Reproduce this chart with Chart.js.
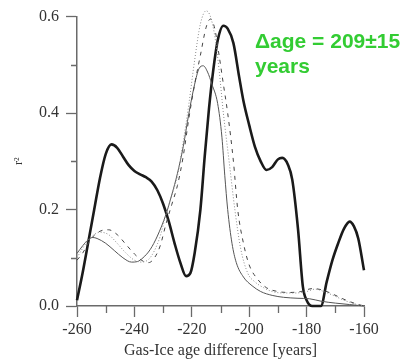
<!DOCTYPE html>
<html>
<head>
<meta charset="utf-8">
<script src="https://cdn.jsdelivr.net/npm/chart.js@4/dist/chart.umd.min.js"></script>
<style>
  html, body { margin: 0; padding: 0; background: #fff; }
  #wrap { position: relative; width: 403px; height: 360px; }
</style>
</head>
<body>
<div id="wrap"><canvas id="lagChart" width="403" height="360"></canvas></div>
<script>
// tick labels
var xTicks = [-260, -240, -220, -200, -180, -160];
var yTicks = [0.0, 0.2, 0.4, 0.6];
var xMinor = [-250, -230, -210, -190, -170];
var yMinor = [0.1, 0.3, 0.5];

// thick black curve
var thickX = [-260, -258, -256, -254, -252, -250, -248, -246, -244, -242, -240, -238, -236, -234, -232, -230, -228, -226, -224, -222, -220.5, -219, -217, -215.5, -214, -212.5, -211, -209, -207.5, -205.5, -203.5, -202, -200, -198, -196, -194, -192, -190, -188.5, -186.5, -185, -183, -181.3, -180, -178, -175, -173, -171, -169, -167, -165, -163.5, -162, -160];
var thickY = [0.012, 0.07, 0.135, 0.2, 0.265, 0.315, 0.335, 0.328, 0.31, 0.292, 0.28, 0.273, 0.267, 0.258, 0.24, 0.212, 0.175, 0.13, 0.09, 0.062, 0.068, 0.11, 0.2, 0.31, 0.41, 0.49, 0.55, 0.581, 0.575, 0.545, 0.475, 0.425, 0.375, 0.33, 0.3, 0.282, 0.288, 0.304, 0.307, 0.293, 0.262, 0.16, 0.04, 0.012, 0.0, 0.0, 0.05, 0.095, 0.13, 0.16, 0.175, 0.165, 0.14, 0.074];

// thin solid curve
var thinX = [-260, -258, -256, -254.5, -253, -250, -247, -244, -241, -239, -237, -234.5, -232, -229, -227, -225, -223, -221, -219, -217.5, -216, -214.5, -213, -211, -209.5, -208.5, -207.5, -206, -204.5, -202, -199, -196, -192, -188, -183, -179, -175, -170, -165, -160];
var thinY = [0.109, 0.125, 0.138, 0.142, 0.14, 0.13, 0.115, 0.1, 0.091, 0.092, 0.1, 0.117, 0.145, 0.19, 0.23, 0.275, 0.33, 0.4, 0.46, 0.492, 0.498, 0.485, 0.46, 0.42, 0.35, 0.27, 0.2, 0.13, 0.09, 0.06, 0.042, 0.03, 0.022, 0.018, 0.016, 0.015, 0.01, 0.006, 0.003, 0];

// dotted curve
var dotX = [-260, -258, -255, -252, -249, -246, -243, -240, -237.5, -235, -233, -231, -229, -227, -225, -223, -221, -219, -217, -215, -213.5, -212, -210.5, -209, -207, -205, -203, -200.5, -198, -195, -192, -188, -184, -180, -177, -174, -170, -167, -163, -160];
var dotY = [0.1, 0.12, 0.143, 0.153, 0.148, 0.13, 0.11, 0.095, 0.091, 0.097, 0.115, 0.145, 0.19, 0.23, 0.27, 0.34, 0.42, 0.51, 0.585, 0.612, 0.6, 0.56, 0.49, 0.4, 0.3, 0.2, 0.12, 0.068, 0.05, 0.038, 0.03, 0.027, 0.027, 0.03, 0.035, 0.03, 0.02, 0.012, 0.004, 0];

// dashed curve
var dashX = [-260, -258, -255, -252, -249, -246, -243, -240, -237, -235, -233, -231, -229, -227, -225, -223, -221, -219, -217, -215, -213.5, -212, -210.5, -209, -207.5, -205.5, -204, -202, -200, -197, -194, -190, -186, -182, -178, -175, -171, -167, -163, -160];
var dashY = [0.095, 0.11, 0.14, 0.155, 0.158, 0.148, 0.128, 0.108, 0.093, 0.09, 0.1, 0.125, 0.17, 0.21, 0.25, 0.31, 0.39, 0.46, 0.52, 0.578, 0.595, 0.575, 0.52, 0.46, 0.4, 0.3, 0.2, 0.13, 0.085, 0.055, 0.038, 0.03, 0.028, 0.03, 0.036, 0.034, 0.025, 0.014, 0.005, 0];

var labelText = ['\u0394age = 209\u00b115', 'years'];

function pts(xs, ys) {
    return xs.map(function(x, i) { return {x: x, y: ys[i]}; });
}

var serif = 'Liberation Serif';
var axisColor = '#6a6a6a';

var extras = {
    id: 'extras',
    afterDraw: function(chart) {
        var ctx = chart.ctx;
        var xs = chart.scales.x, ys = chart.scales.y;
        ctx.save();
        ctx.strokeStyle = axisColor;
        ctx.lineWidth = 1.3;
        ctx.beginPath();
        xMinor.forEach(function(v) {
            var px = Math.round(xs.getPixelForValue(v)) + 0.5;
            ctx.moveTo(px, xs.top);
            ctx.lineTo(px, xs.top + 7);
        });
        yMinor.forEach(function(v) {
            var py = Math.round(ys.getPixelForValue(v)) + 0.5;
            ctx.moveTo(ys.right, py);
            ctx.lineTo(ys.right - 6, py);
        });
        ctx.stroke();
        // annotation
        ctx.fillStyle = '#33cc33';
        ctx.font = 'bold 21px "Liberation Sans", Arial, sans-serif';
        ctx.textBaseline = 'alphabetic';
        ctx.fillText(labelText[0], 255, 48);
        ctx.fillText(labelText[1], 255, 73);
        ctx.restore();
    }
};

var ctx = document.getElementById('lagChart').getContext('2d');
var lagChart = new Chart(ctx, {
    type: 'line',
    data: {
        datasets: [{
            data: pts(dotX, dotY),
            borderColor: '#8a8a8a',
            borderWidth: 1,
            borderDash: [1, 2]
        }, {
            data: pts(dashX, dashY),
            borderColor: '#444',
            borderWidth: 1,
            borderDash: [4, 5]
        }, {
            data: pts(thinX, thinY),
            borderColor: '#555',
            borderWidth: 1
        }, {
            data: pts(thickX, thickY),
            borderColor: '#1a1a1a',
            borderWidth: 2.6
        }]
    },
    options: {
        responsive: false,
        animation: false,
        clip: false,
        layout: { padding: { top: 15, right: 39, bottom: 0, left: 0 } },
        elements: {
            point: { radius: 0 },
            line: { tension: 0.4, cubicInterpolationMode: 'monotone', fill: false }
        },
        plugins: {
            legend: { display: false },
            tooltip: { enabled: false }
        },
        scales: {
            x: {
                type: 'linear',
                min: -260,
                max: -160,
                afterBuildTicks: function(s) { s.ticks = xTicks.map(function(v) { return {value: v}; }); },
                afterFit: function(s) { s.height = 54; },
                grid: { drawOnChartArea: false, tickLength: 11, tickColor: axisColor, tickWidth: 1.3 },
                border: { color: axisColor, width: 1.5 },
                ticks: { color: '#333', padding: 3, font: { family: serif, size: 16 } },
                title: {
                    display: true,
                    text: 'Gas-Ice age difference [years]',
                    color: '#333',
                    padding: { top: 0, bottom: 0 },
                    font: { family: serif, size: 16 }
                }
            },
            y: {
                type: 'linear',
                min: 0,
                max: 0.6,
                afterBuildTicks: function(s) { s.ticks = yTicks.map(function(v) { return {value: v}; }); },
                afterFit: function(s) { s.width = 77; },
                grid: { drawOnChartArea: false, tickLength: 11, tickColor: axisColor, tickWidth: 1.3 },
                border: { color: axisColor, width: 1.5 },
                ticks: {
                    color: '#333',
                    padding: 7,
                    font: { family: serif, size: 16 },
                    callback: function(v) { return v.toFixed(1); }
                },
                title: {
                    display: true,
                    text: 'r\u00b2',
                    color: '#333',
                    padding: { top: 12, bottom: 0 },
                    font: { family: serif, size: 12 }
                }
            }
        }
    },
    plugins: [extras]
});
</script>
</body>
</html>
